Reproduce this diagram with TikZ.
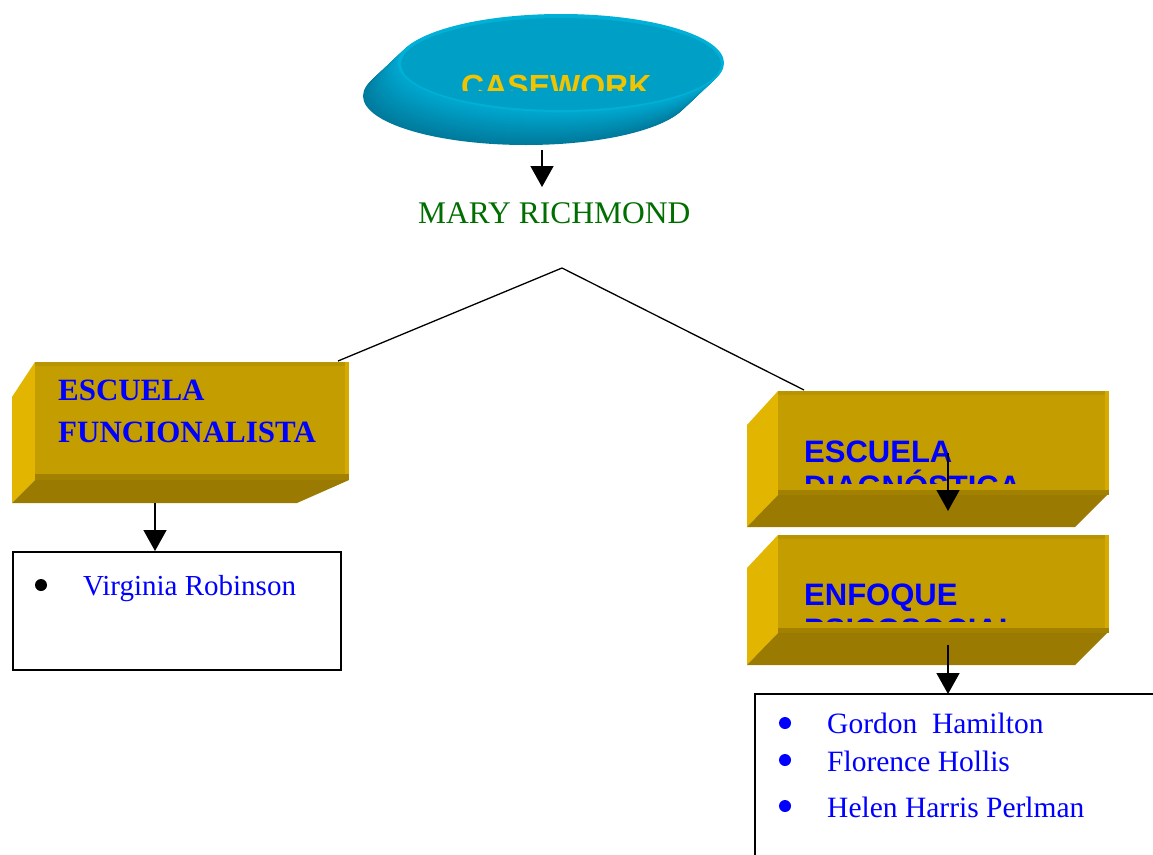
\documentclass[tikz,border=0pt]{standalone}
\usepackage{fontspec}
\setmainfont{Liberation Serif}
\newfontfamily\arialfont{Liberation Sans}
\usetikzlibrary{arrows.meta,shapes.geometric}
\definecolor{disktop}{RGB}{0,160,198}
\definecolor{diskrim}{RGB}{0,176,214}
\definecolor{diskside}{RGB}{0,122,156}
\definecolor{diskedge}{RGB}{0,168,208}
\definecolor{boxfront}{RGB}{196,158,0}
\definecolor{boxleft}{RGB}{226,182,0}
\definecolor{boxbottom}{RGB}{154,122,0}
\definecolor{boxtop}{RGB}{184,148,0}
\definecolor{boxright}{RGB}{214,170,0}
\definecolor{casetext}{RGB}{240,196,0}
\definecolor{marygreen}{RGB}{0,110,0}
\definecolor{nameblue}{RGB}{0,0,255}
\tikzset{
  conn/.style={line width=1.5pt,-{Triangle[width=23pt,length=21pt]}},
  thinline/.style={line width=1.3pt},
  listbox/.style={draw=black,line width=1.5pt,fill=white},
  txt/.style={inner sep=0pt,anchor=base west},
  bul/.style={circle,inner sep=0pt,minimum size=12pt}
}
\begin{document}
\begin{tikzpicture}[x=1pt,y=-1pt]
\useasboundingbox (0,0) rectangle (1153,854);
\fill[white] (0,0) rectangle (1153,854);

% connectors from Mary Richmond (behind boxes)
\coordinate (split) at (562,268);
\coordinate (leftend) at (338,361);
\coordinate (rightend) at (804,390);
\draw[thinline] (split) -- (leftend);
\draw[thinline] (split) -- (rightend);

% ---- CASEWORK disk ----
\foreach \i in {35,34,...,1}{
  \pgfmathsetmacro{\mix}{100*\i/35}
  \fill[diskside!\mix!diskedge] (561-\i,63+\i*33/35) ellipse [x radius=163,y radius=49];
}
\fill[diskrim] (561,63) ellipse [x radius=163,y radius=49];
\fill[disktop] (561,64) ellipse [x radius=160,y radius=46];
\node[ellipse,minimum width=326pt,minimum height=98pt,inner sep=0pt] (disk) at (561,63) {};
\begin{scope}
\clip (380,20) rectangle (740,90);
\node[txt,text=casetext,font=\arialfont\bfseries\fontsize{32}{38}\selectfont] (casework) at (461,97) {CASEWORK};
\end{scope}

% ---- Mary Richmond ----
\node[txt,text=marygreen,font=\fontsize{31.5}{37}\selectfont] (mary) at (418,223) {MARY RICHMOND};
\coordinate (diskout) at (542,150);
\coordinate (maryin) at (542,187);
\draw[conn] (diskout) -- (maryin);

% ---- Left box: ESCUELA FUNCIONALISTA ----
\fill[boxleft] (35,362) -- (12,397) -- (12,503) -- (35,480) -- cycle;
\fill[boxbottom] (35,480) -- (349,480) -- (297,503) -- (12,503) -- cycle;
\node[fill=boxfront,minimum width=314pt,minimum height=118pt,inner sep=0pt,anchor=north west] (funcbox) at (35,362) {};
\fill[boxtop] (35,362) rectangle (349,366);
\fill[boxright] (345,362) rectangle (349,480);
\fill[boxbottom!80!boxfront] (35,474) rectangle (349,480);
\node[txt,text=nameblue,font=\bfseries\fontsize{31}{36}\selectfont] (esc1) at (58,400) {ESCUELA};
\node[txt,text=nameblue,font=\bfseries\fontsize{31}{36}\selectfont] (func1) at (58,442) {FUNCIONALISTA};

% ---- Virginia box ----
\node[listbox,minimum width=328pt,minimum height=118pt,inner sep=0pt,anchor=north west] (vbox) at (12,551) {};
\node[bul,fill=black] (vb1) at (41,585) {};
\node[txt,text=nameblue,font=\fontsize{29}{34}\selectfont] (virginia) at (83,595) {Virginia Robinson};
\coordinate (funcout) at (155,503);
\draw[conn] (funcout) -- (vbox.north -| funcout);

% ---- Right box 1: ESCUELA DIAGNOSTICA ----
\fill[boxleft] (778,391) -- (747,425) -- (747,527) -- (778,495) -- cycle;
\fill[boxbottom] (778,495) -- (1107,495) -- (1075,527) -- (747,527) -- cycle;
\node[fill=boxfront,minimum width=331pt,minimum height=104pt,inner sep=0pt,anchor=north west] (diagbox) at (778,391) {};
\fill[boxtop] (778,391) rectangle (1109,395);
\fill[boxright] (1105,391) rectangle (1109,495);
\fill[boxbottom!80!boxfront] (778,490) rectangle (1109,495);
\begin{scope}
\clip (790,420) rectangle (1100,483);
\node[txt,text=nameblue,font=\arialfont\bfseries\fontsize{31}{37}\selectfont] (esc2) at (804,462) {ESCUELA};
\node[txt,text=nameblue,font=\arialfont\bfseries\fontsize{31}{37}\selectfont] (diag) at (804,497) {DIAGNÓSTICA};
\end{scope}

% ---- Right box 2: ENFOQUE PSICOSOCIAL ----
\fill[boxleft] (778,535) -- (747,568) -- (747,665) -- (778,633) -- cycle;
\fill[boxbottom] (778,633) -- (1107,633) -- (1075,665) -- (747,665) -- cycle;
\node[fill=boxfront,minimum width=331pt,minimum height=98pt,inner sep=0pt,anchor=north west] (psibox) at (778,535) {};
\fill[boxtop] (778,535) rectangle (1109,539);
\fill[boxright] (1105,535) rectangle (1109,633);
\fill[boxbottom!80!boxfront] (778,628) rectangle (1109,633);
\begin{scope}
\clip (790,560) rectangle (1100,621);
\node[txt,text=nameblue,font=\arialfont\bfseries\fontsize{31}{37}\selectfont] (enf) at (804,605) {ENFOQUE};
\node[txt,text=nameblue,font=\arialfont\bfseries\fontsize{31}{37}\selectfont] (psi) at (804,640) {PSICOSOCIAL};
\end{scope}

\coordinate (diagout) at (948,453);
\coordinate (diagin) at (948,511);
\draw[conn] (diagout) -- (diagin);

% ---- Names box ----
\draw[listbox] (1160,694) -- (755,694) -- (755,860);
\coordinate (nbox) at (948,694);
\coordinate (psiout) at (948,645);
\draw[conn] (psiout) -- (nbox);
\node[bul,fill=nameblue] (nb1) at (785,723) {};
\node[bul,fill=nameblue] (nb2) at (785,760) {};
\node[bul,fill=nameblue] (nb3) at (785,806) {};
\node[txt,text=nameblue,font=\fontsize{29.5}{35}\selectfont] (gordon) at (827,733) {Gordon\ \ Hamilton};
\node[txt,text=nameblue,font=\fontsize{29.5}{35}\selectfont] (florence) at (827,771) {Florence Hollis};
\node[txt,text=nameblue,font=\fontsize{29.5}{35}\selectfont] (helen) at (827,817) {Helen Harris Perlman};
\end{tikzpicture}
\end{document}
